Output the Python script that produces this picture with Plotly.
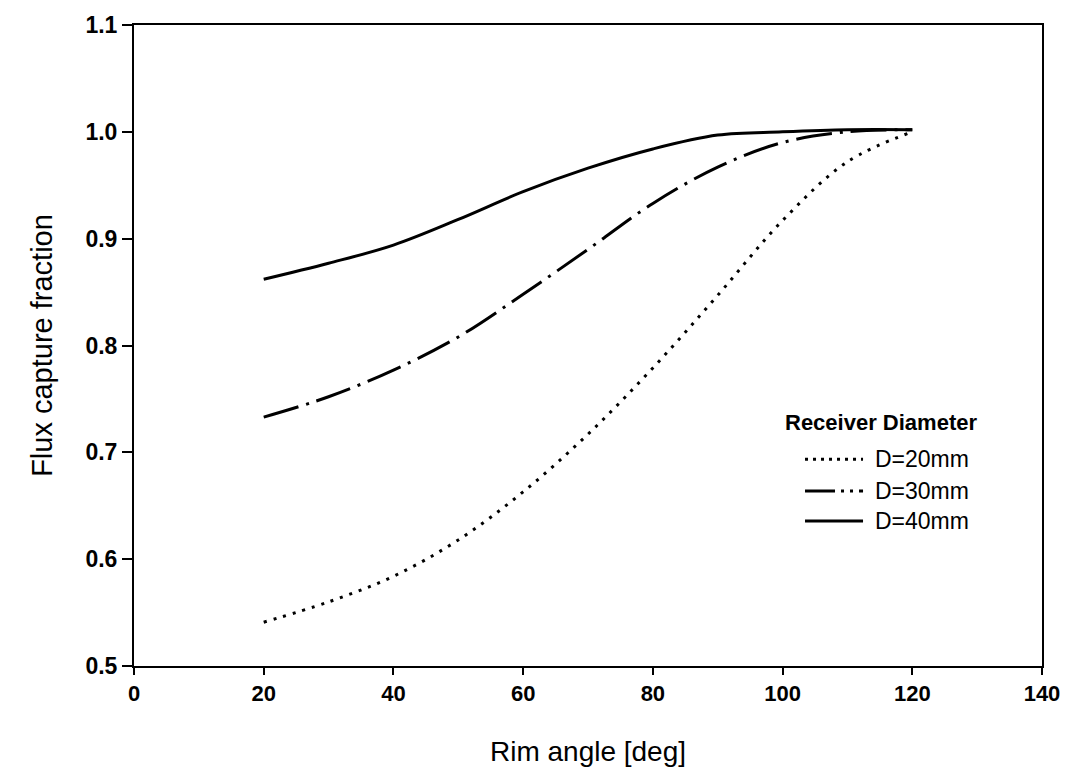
import plotly.graph_objects as go

rim_angle = [20, 30, 40, 50, 60, 70, 80, 90, 100, 110, 120]
d20 = [0.541, 0.560, 0.584, 0.618, 0.663, 0.717, 0.779, 0.847, 0.917, 0.972, 1.000]
d30 = [0.733, 0.752, 0.777, 0.808, 0.848, 0.890, 0.933, 0.967, 0.990, 1.000, 1.002]
d40 = [0.862, 0.877, 0.894, 0.918, 0.944, 0.966, 0.984, 0.997, 1.000, 1.002, 1.002]

series_names = ["D=20mm", "D=30mm", "D=40mm"]
legend_title = "Receiver Diameter"
x_ticks = [0, 20, 40, 60, 80, 100, 120, 140]
y_ticks = [0.5, 0.6, 0.7, 0.8, 0.9, 1.0, 1.1]

FONT = "Liberation Sans, Arial, sans-serif"
dashes = ["3px,7px", "36px,8px,3px,8px", "solid"]
legend_dashes = ["3px,5px", "30px,6px,3px,6px,3px,6px", "solid"]
series_values = [d20, d30, d40]

fig = go.Figure()
for name, vals, dash in zip(series_names, series_values, dashes):
    fig.add_trace(go.Scatter(x=rim_angle, y=vals, name=name, mode="lines", showlegend=False,
                             line=dict(color="black", width=3, dash=dash, shape="spline")))

# manual legend (paper coordinates of the plot area)
fig.add_annotation(xref="paper", yref="paper", x=0.7148, y=0.3798, xanchor="left", yanchor="middle",
                   text="<b>" + legend_title + "</b>", showarrow=False,
                   font=dict(size=22, family=FONT, color="black"))
leg_y = [0.3225, 0.2729, 0.2264]
for name, ldash, yy in zip(series_names, legend_dashes, leg_y):
    fig.add_shape(type="line", xref="paper", yref="paper", x0=0.739, x1=0.8029, y0=yy, y1=yy,
                  line=dict(color="black", width=3, dash=ldash))
    fig.add_annotation(xref="paper", yref="paper", x=0.8139, y=yy, xanchor="left", yanchor="middle",
                       text=name, showarrow=False, font=dict(size=23, family=FONT, color="black"))

fig.update_layout(
    width=1080, height=779,
    margin=dict(l=134, r=38, t=21, b=113),
    paper_bgcolor="white", plot_bgcolor="white",
    font=dict(family=FONT, color="black"),
    showlegend=False,
    xaxis=dict(
        range=[0, 140], tickvals=x_ticks, ticktext=[f"<b>{v}</b>" for v in x_ticks],
        showgrid=False, zeroline=False,
        showline=True, linecolor="black", linewidth=2, mirror=True,
        ticks="outside", ticklen=7, tickwidth=2, tickcolor="black",
        tickfont=dict(size=22, family=FONT),
        title=dict(text="Rim angle [deg]", font=dict(size=28, family=FONT), standoff=36),
    ),
    yaxis=dict(
        range=[0.5, 1.1], tickvals=y_ticks, ticktext=[f"<b>{v:.1f}</b>" for v in y_ticks],
        showgrid=False, zeroline=False,
        showline=True, linecolor="black", linewidth=2, mirror=True,
        ticks="outside", ticklen=10, tickwidth=2, tickcolor="black",
        tickfont=dict(size=23, family=FONT),
        title=dict(text="Flux capture fraction", font=dict(size=29, family=FONT), standoff=24),
    ),
)

fig.write_html("out.html")
